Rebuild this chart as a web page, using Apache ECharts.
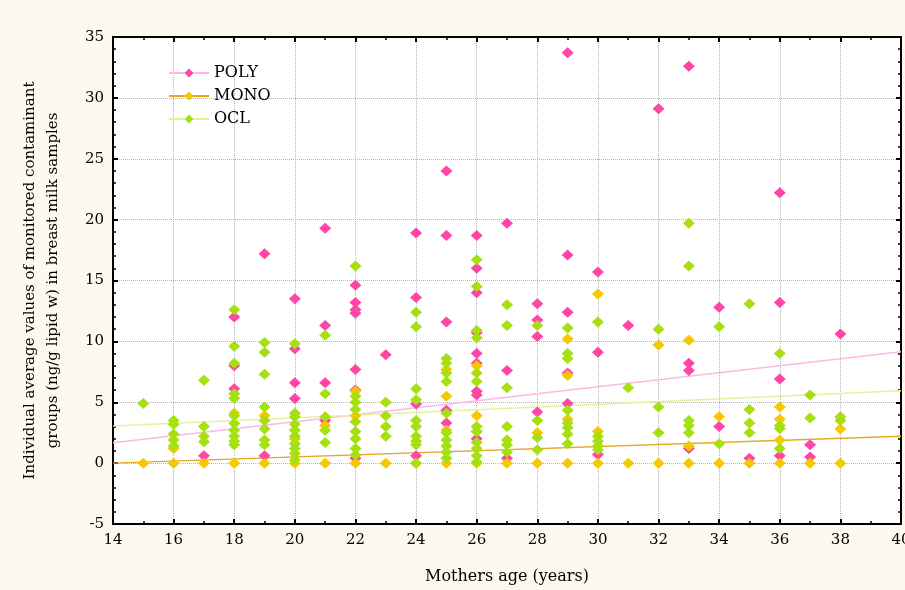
<!DOCTYPE html>
<html>
<head>
<meta charset="utf-8">
<style>
  html, body { margin: 0; padding: 0; background: #fdf9ee; }
  #chart { width: 905px; height: 590px; }
</style>
<script src="https://cdn.jsdelivr.net/npm/echarts@6/dist/echarts.min.js"></script>
</head>
<body>
<div id="chart"></div>
<script>
// [age, value] pairs
const polyPoints = [
  [17, 0.6],
  [18, 12.0], [18, 8.0], [18, 6.1],
  [19, 17.2], [19, 0.6],
  [20, 13.5], [20, 9.4], [20, 6.6], [20, 5.3],
  [21, 19.3], [21, 11.3], [21, 6.6], [21, 3.5],
  [22, 14.6], [22, 13.2], [22, 12.6], [22, 12.3], [22, 7.7], [22, 6.0], [22, 0.4],
  [23, 8.9],
  [24, 18.9], [24, 13.6], [24, 4.85], [24, 0.6],
  [25, 24.0], [25, 18.7], [25, 11.6], [25, 4.35], [25, 3.3],
  [26, 18.7], [26, 16.0], [26, 14.0], [26, 10.7], [26, 9.0], [26, 8.2], [26, 5.9], [26, 5.6], [26, 2.0],
  [27, 19.7], [27, 7.6], [27, 0.4],
  [28, 13.1], [28, 11.75], [28, 10.4], [28, 4.2],
  [29, 33.7], [29, 17.1], [29, 12.4], [29, 7.4], [29, 4.9],
  [30, 15.7], [30, 9.1], [30, 0.7],
  [31, 11.3],
  [32, 29.1],
  [33, 32.6], [33, 8.2], [33, 7.6], [33, 1.2],
  [34, 12.8], [34, 3.0],
  [35, 0.4],
  [36, 22.2], [36, 13.2], [36, 6.9], [36, 0.6],
  [37, 1.5], [37, 0.5],
  [38, 10.6]
];
const monoPoints = [
  [15, 0],
  [16, 1.2], [16, 0],
  [17, 0],
  [18, 4.1], [18, 0],
  [19, 3.9], [19, 0],
  [20, 2.0], [20, 0],
  [21, 3.1], [21, 0],
  [22, 5.9], [22, 3.9], [22, 0],
  [23, 0],
  [24, 0],
  [25, 7.7], [25, 5.5], [25, 2.7], [25, 0],
  [26, 8.0], [26, 3.9], [26, 2.6], [26, 0],
  [27, 0],
  [28, 2.5], [28, 0],
  [29, 10.2], [29, 7.2], [29, 3.6], [29, 0],
  [30, 13.9], [30, 2.6], [30, 0],
  [31, 0],
  [32, 9.7], [32, 0],
  [33, 10.1], [33, 1.4], [33, 0],
  [34, 3.8], [34, 0],
  [35, 0],
  [36, 4.6], [36, 3.6], [36, 1.9], [36, 0],
  [37, 0],
  [38, 2.8], [38, 0]
];
const oclPoints = [
  [15, 4.9],
  [16, 3.5], [16, 3.2], [16, 2.4], [16, 1.9], [16, 1.4],
  [17, 6.8], [17, 3.0], [17, 2.2], [17, 1.75],
  [18, 12.6], [18, 9.6], [18, 8.2], [18, 5.7], [18, 5.3], [18, 3.9], [18, 3.25], [18, 2.7], [18, 2.2], [18, 1.8], [18, 1.5],
  [19, 9.9], [19, 9.1], [19, 7.3], [19, 4.6], [19, 3.5], [19, 2.8], [19, 1.9], [19, 1.5],
  [20, 9.8], [20, 4.1], [20, 3.8], [20, 3.2], [20, 2.7], [20, 2.2], [20, 1.6], [20, 1.2], [20, 0.8], [20, 0.25],
  [21, 10.5], [21, 5.7], [21, 3.8], [21, 2.7], [21, 1.7],
  [22, 16.2], [22, 5.5], [22, 5.0], [22, 4.4], [22, 3.4], [22, 2.6], [22, 2.0], [22, 1.2], [22, 0.66],
  [23, 5.0], [23, 3.9], [23, 3.0], [23, 2.2],
  [24, 12.4], [24, 11.2], [24, 6.1], [24, 5.2], [24, 3.5], [24, 3.0], [24, 2.2], [24, 1.8], [24, 1.5], [24, 0],
  [25, 8.6], [25, 8.2], [25, 7.4], [25, 6.7], [25, 4.1], [25, 2.5], [25, 1.9], [25, 1.4], [25, 0.9], [25, 0.4],
  [26, 16.7], [26, 14.5], [26, 10.9], [26, 10.3], [26, 7.4], [26, 6.7], [26, 3.0], [26, 2.6], [26, 1.7], [26, 1.2], [26, 0.6], [26, 0.1],
  [27, 13.0], [27, 11.3], [27, 6.2], [27, 3.0], [27, 1.9], [27, 1.5], [27, 0.9],
  [28, 11.3], [28, 3.5], [28, 2.1], [28, 1.1],
  [29, 11.1], [29, 9.0], [29, 8.6], [29, 4.35], [29, 3.3], [29, 2.9], [29, 2.4], [29, 1.6],
  [30, 11.6], [30, 2.2], [30, 1.8], [30, 1.4], [30, 1.1],
  [31, 6.2],
  [32, 11.0], [32, 4.6], [32, 2.5],
  [33, 19.7], [33, 16.2], [33, 3.5], [33, 3.1], [33, 2.5],
  [34, 11.2], [34, 1.6],
  [35, 13.1], [35, 4.4], [35, 3.3], [35, 2.5],
  [36, 9.0], [36, 3.1], [36, 2.85], [36, 1.2],
  [37, 5.6], [37, 3.7],
  [38, 3.8], [38, 3.5]
];
// fitted trend lines, end points
const polyTrend = [[14, 1.67], [40, 9.15]];
const monoTrend = [[14, 0.0], [40, 2.2]];
const oclTrend = [[14, 3.05], [40, 5.95]];

const names = ['POLY', 'MONO', 'OCL'];
const dotColors = ['#ff45a6', '#f5c800', '#a6e012'];
const lineColors = ['#ffb8e8', '#e6a820', '#e2f49a'];

const font = 'DejaVu Serif';
const chart = echarts.init(document.getElementById('chart'));

const axisBase = {
  axisLine: { show: true, onZero: false, lineStyle: { color: '#000', width: 2 } },
  axisTick: { show: true, inside: true, length: 5, lineStyle: { color: '#000', width: 2 } },
  minorTick: { show: true, length: 3, lineStyle: { color: '#000', width: 1.5 } }
};

const trendSeries = [polyTrend, monoTrend, oclTrend].map((d, i) => ({
  name: names[i],
  type: 'line',
  data: d,
  symbol: 'diamond',
  showSymbol: false,
  symbolSize: [12, 11],
  itemStyle: { color: dotColors[i] },
  lineStyle: { color: lineColors[i], width: 1.5 },
  silent: true,
  z: 1
}));
const dotSeries = [polyPoints, monoPoints, oclPoints].map((d, i) => ({
  name: names[i],
  type: 'scatter',
  data: d,
  symbol: 'diamond',
  symbolSize: [12, 11],
  itemStyle: { color: dotColors[i], opacity: 1 },
  z: 2 + i
}));

chart.setOption({
  backgroundColor: '#fdf9ee',
  animation: false,
  grid: {
    left: 113, right: 4, top: 37, bottom: 66,
    outerBoundsMode: 'none',
    show: true, backgroundColor: '#fff', borderColor: '#000', borderWidth: 2
  },
  legend: {
    data: names,
    orient: 'vertical',
    left: 163, top: 60,
    itemWidth: 40, itemHeight: 11, itemGap: 7,
    textStyle: { fontFamily: font, fontSize: 16, color: '#000' }
  },
  xAxis: [
    Object.assign({}, axisBase, {
      type: 'value', min: 14, max: 40, interval: 2,
      axisLabel: { fontFamily: font, fontSize: 15, color: '#000', margin: 9 },
      splitLine: { show: true, lineStyle: { type: 'dotted', color: '#b4b4b4' } },
      minorTick: Object.assign({}, axisBase.minorTick, { splitNumber: 2 }),
      name: 'Mothers age (years)',
      nameLocation: 'middle', nameGap: 45,
      nameTextStyle: { fontFamily: font, fontSize: 16, color: '#000' }
    }),
    Object.assign({}, axisBase, {
      type: 'value', position: 'top', min: 14, max: 40, interval: 2,
      axisLabel: { show: false }, splitLine: { show: false },
      minorTick: Object.assign({}, axisBase.minorTick, { splitNumber: 2 })
    })
  ],
  yAxis: [
    Object.assign({}, axisBase, {
      type: 'value', min: -5, max: 35, interval: 5,
      axisLabel: { fontFamily: font, fontSize: 15, color: '#000', margin: 9 },
      splitLine: { show: true, lineStyle: { type: 'dotted', color: '#b4b4b4' } },
      minorTick: Object.assign({}, axisBase.minorTick, { splitNumber: 5 }),
      name: 'Individual average values of monitored contaminant\ngroups (ng/g lipid w) in breast milk samples',
      nameLocation: 'middle', nameGap: 48, nameRotate: 90,
      nameTextStyle: { fontFamily: font, fontSize: 15, color: '#000', lineHeight: 23 }
    }),
    Object.assign({}, axisBase, {
      type: 'value', position: 'right', min: -5, max: 35, interval: 5,
      axisLabel: { show: false }, splitLine: { show: false },
      minorTick: Object.assign({}, axisBase.minorTick, { splitNumber: 5 })
    })
  ],
  series: trendSeries.concat(dotSeries)
});
</script>
</body>
</html>
